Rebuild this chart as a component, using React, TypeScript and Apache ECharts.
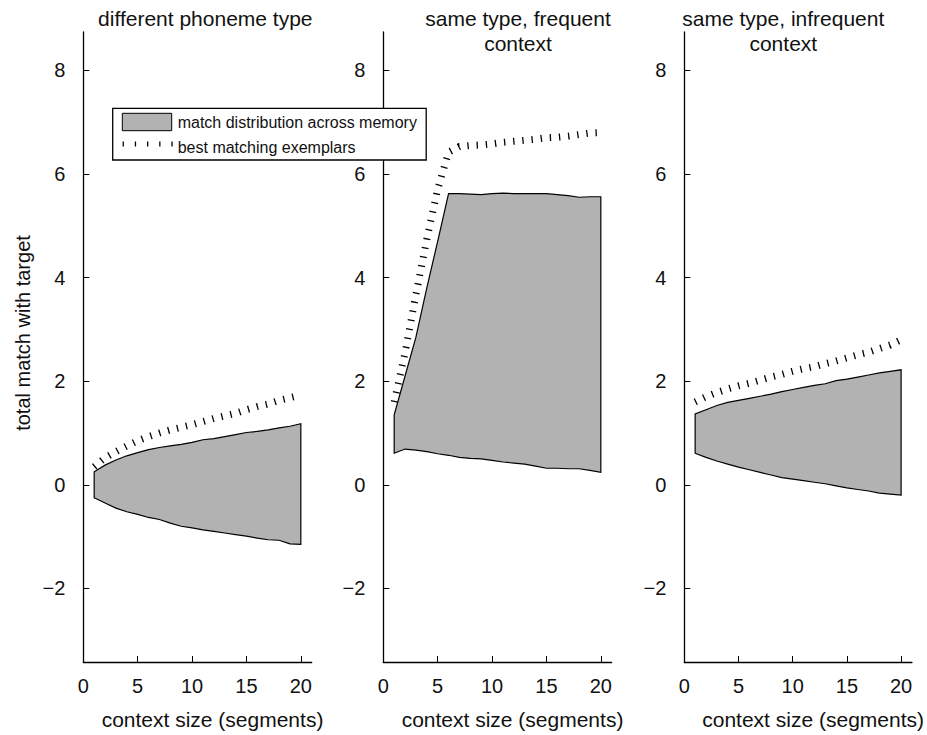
import React, { useEffect, useRef } from "react";
import * as echarts from "echarts";

const FONT = '"Liberation Sans", Arial, Helvetica, sans-serif';
const GRAY = "#b2b2b2";
const INK = "#111";

// context size (segments)
const contextSizes = [1, 2, 3, 4, 5, 6, 7, 8, 9, 10, 11, 12, 13, 14, 15, 16, 17, 18, 19, 20];

// Panel 1: different phoneme type
const diffLower = [-0.25, -0.35, -0.45, -0.52, -0.57, -0.63, -0.67, -0.74, -0.8, -0.83, -0.87, -0.9, -0.93, -0.96, -0.99, -1.03, -1.06, -1.07, -1.14, -1.15];
const diffUpper = [0.25, 0.38, 0.48, 0.56, 0.62, 0.68, 0.72, 0.75, 0.78, 0.82, 0.87, 0.89, 0.93, 0.97, 1.01, 1.03, 1.06, 1.1, 1.13, 1.18];
const diffBest = [0.35, 0.52, 0.64, 0.75, 0.85, 0.93, 1.0, 1.06, 1.11, 1.16, 1.22, 1.28, 1.33, 1.38, 1.45, 1.51, 1.56, 1.63, 1.68, 1.73];

// Panel 2: same type, frequent context
const freqLower = [0.61, 0.69, 0.67, 0.64, 0.6, 0.57, 0.53, 0.51, 0.5, 0.47, 0.44, 0.42, 0.4, 0.36, 0.32, 0.32, 0.31, 0.31, 0.28, 0.24];
const freqUpper = [1.35, 2.1, 2.85, 3.8, 4.7, 5.62, 5.62, 5.61, 5.6, 5.62, 5.63, 5.62, 5.62, 5.62, 5.62, 5.6, 5.58, 5.55, 5.56, 5.56];
const freqBest = [1.6, 2.55, 3.67, 4.74, 5.7, 6.42, 6.53, 6.55, 6.56, 6.58, 6.61, 6.63, 6.65, 6.67, 6.7, 6.71, 6.73, 6.76, 6.79, 6.8];

// Panel 3: same type, infrequent context
const infreqLower = [0.61, 0.53, 0.46, 0.4, 0.34, 0.29, 0.24, 0.19, 0.14, 0.11, 0.08, 0.05, 0.02, -0.02, -0.06, -0.09, -0.12, -0.16, -0.18, -0.2];
const infreqUpper = [1.37, 1.45, 1.53, 1.59, 1.63, 1.67, 1.71, 1.75, 1.8, 1.84, 1.88, 1.92, 1.95, 2.01, 2.04, 2.08, 2.12, 2.16, 2.19, 2.22];
const infreqBest = [1.6, 1.7, 1.78, 1.85, 1.91, 1.96, 2.02, 2.08, 2.13, 2.19, 2.24, 2.28, 2.34, 2.39, 2.45, 2.51, 2.56, 2.63, 2.7, 2.8];

const panelTitles = ["different phoneme type", "same type, frequent\ncontext", "same type, infrequent\ncontext"];
const xTicks = [0, 5, 10, 15, 20];
const yTicks = [-2, 0, 2, 4, 6, 8];
const xLabel = "context size (segments)";
const yLabel = "total match with target";
const legendLabels = ["match distribution across memory", "best matching exemplars"];

const panels = [
  { lower: diffLower, upper: diffUpper, best: diffBest },
  { lower: freqLower, upper: freqUpper, best: freqBest },
  { lower: infreqLower, upper: infreqUpper, best: infreqBest },
];

const gridLefts = [83.3, 383.3, 684.3];
const titleCenters = [
  [205.3, 18.3],
  [518, 30.7],
  [783.3, 30.8],
];

function buildOption() {
  const grid = gridLefts.map((left) => ({ left, top: 32, width: 228.4, height: 634.7 }));
  const xAxis = gridLefts.map((_, i) => ({
    gridIndex: i,
    type: "value",
    min: 0,
    max: 21,
    axisLine: { show: true, onZero: false, lineStyle: { color: "#000", width: 1.3 } },
    axisTick: { show: true, inside: true, length: 6, customValues: xTicks, lineStyle: { color: "#000", width: 1 } },
    axisLabel: { customValues: xTicks, fontSize: 20, fontFamily: FONT, color: INK, margin: 14 },
    splitLine: { show: false },
    name: xLabel,
    nameLocation: "middle",
    nameGap: 47,
    nameTextStyle: { fontSize: 21, fontFamily: FONT, color: INK, padding: [0, 0, 0, 30] },
  }));
  const yAxis = gridLefts.map((_, i) => ({
    gridIndex: i,
    type: "value",
    min: -3.42,
    max: 8.74,
    axisLine: { show: true, onZero: false, lineStyle: { color: "#000", width: 1.3 } },
    axisTick: { show: true, inside: true, length: 6, customValues: yTicks, lineStyle: { color: "#000", width: 1 } },
    axisLabel: {
      customValues: yTicks,
      fontSize: 20,
      fontFamily: FONT,
      color: INK,
      margin: 18,
      formatter: (v: number) => String(v).replace("-", "\u2212"),
    },
    splitLine: { show: false },
  }));

  const series: any[] = [];
  panels.forEach((p, i) => {
    series.push({
      type: "custom",
      name: legendLabels[0],
      xAxisIndex: i,
      yAxisIndex: i,
      data: contextSizes.map((x, k) => [x, p.lower[k], p.upper[k]]),
      encode: { x: 0, y: [1, 2] },
      z: 2,
      renderItem: (params: any, api: any) => {
        if (params.dataIndex !== 0) return null;
        const pts: number[][] = [];
        for (let k = 0; k < contextSizes.length; k++) pts.push(api.coord([contextSizes[k], p.lower[k]]));
        for (let k = contextSizes.length - 1; k >= 0; k--) pts.push(api.coord([contextSizes[k], p.upper[k]]));
        return {
          type: "polygon",
          shape: { points: pts },
          style: { fill: GRAY, stroke: "#000", lineWidth: 1.2 },
        };
      },
    });
    series.push({
      type: "line",
      name: legendLabels[1],
      xAxisIndex: i,
      yAxisIndex: i,
      data: contextSizes.map((x, k) => [x, p.best[k]]),
      symbol: "none",
      z: 3,
      lineStyle: { color: "#000", width: 7, type: [1.3, 7.9], cap: "butt", join: "miter" },
    });
  });

  const graphic: any[] = [];
  panelTitles.forEach((t, i) => {
    graphic.push({
      type: "text",
      x: titleCenters[i][0],
      y: titleCenters[i][1],
      style: { text: t, fontSize: 21, fontFamily: FONT, fill: INK, align: "center", verticalAlign: "middle", lineHeight: 25 },
    });
  });
  graphic.push({
    type: "text",
    x: 23.3,
    y: 333,
    rotation: Math.PI / 2,
    style: { text: yLabel, fontSize: 20, fontFamily: FONT, fill: INK, align: "center", verticalAlign: "middle" },
  });
  // legend
  graphic.push({
    type: "rect",
    z: 100,
    shape: { x: 112.7, y: 108.3, width: 313.5, height: 51.7 },
    style: { fill: "#fff", stroke: "#000", lineWidth: 1.3 },
  });
  graphic.push({
    type: "rect",
    z: 101,
    shape: { x: 122.3, y: 113.3, width: 49.4, height: 17.4 },
    style: { fill: GRAY, stroke: "#000", lineWidth: 1 },
  });
  graphic.push({
    type: "line",
    z: 101,
    shape: { x1: 122.6, y1: 144, x2: 174, y2: 144 },
    style: { stroke: "#000", lineWidth: 5, lineDash: [1.3, 10.9] },
  });
  graphic.push({
    type: "text",
    z: 101,
    x: 177.7,
    y: 122.5,
    style: { text: legendLabels[0], fontSize: 16, fontFamily: FONT, fill: INK, align: "left", verticalAlign: "middle" },
  });
  graphic.push({
    type: "text",
    z: 101,
    x: 177.7,
    y: 147.5,
    style: { text: legendLabels[1], fontSize: 16, fontFamily: FONT, fill: INK, align: "left", verticalAlign: "middle" },
  });

  return {
    animation: false,
    backgroundColor: "#fff",
    grid,
    xAxis,
    yAxis,
    series,
    graphic,
  };
}

export default function App() {
  const ref = useRef<HTMLDivElement>(null);
  useEffect(() => {
    if (!ref.current) return;
    const chart = echarts.init(ref.current, null, { renderer: "svg" });
    chart.setOption(buildOption() as any);
    return () => chart.dispose();
  }, []);
  return <div ref={ref} style={{ position: "fixed", left: 0, top: 0, width: 927, height: 735 }} />;
}
